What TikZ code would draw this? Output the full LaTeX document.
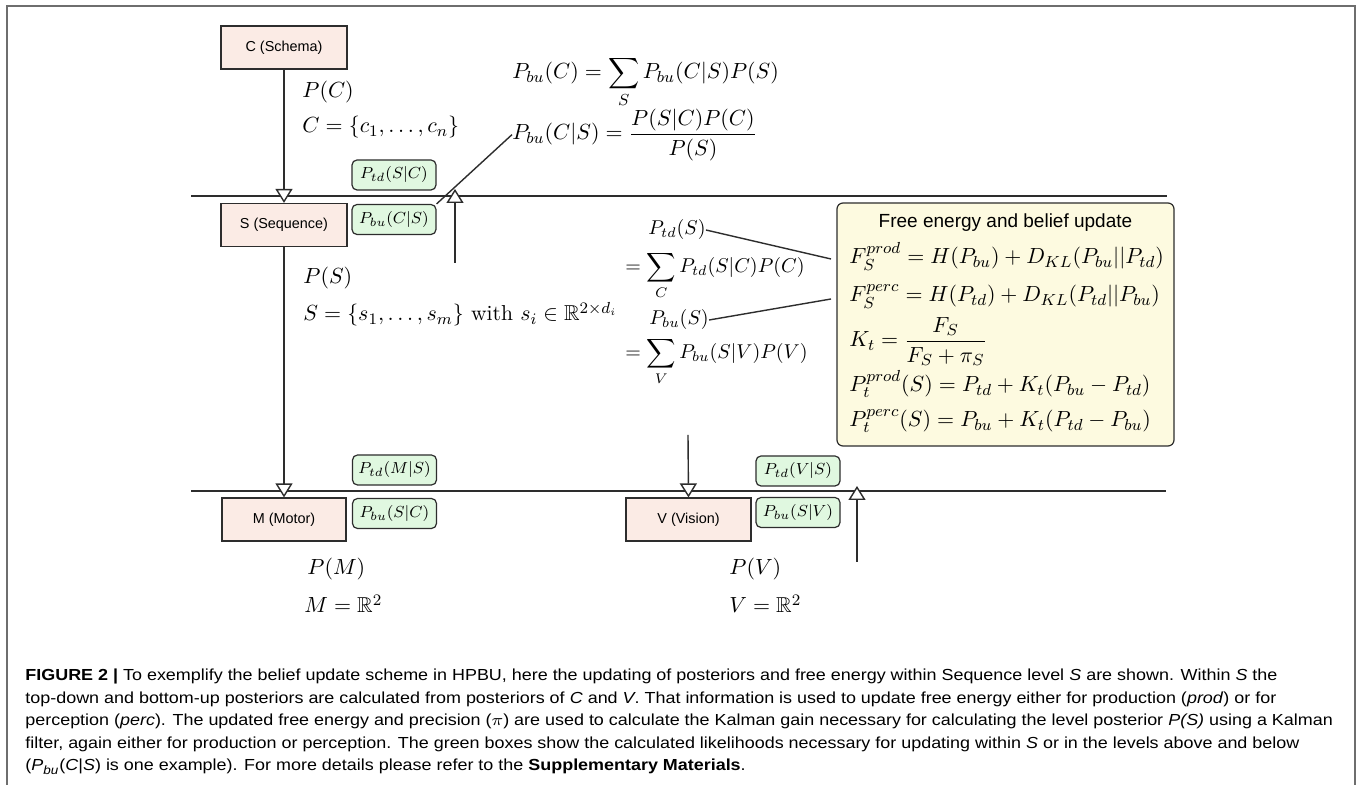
\documentclass[tikz,border=0pt]{standalone}
\usepackage{amsmath,amssymb}
\usepackage{fontspec}
\setsansfont{Liberation Sans}
\usetikzlibrary{arrows.meta}
\definecolor{pinkfill}{RGB}{251,235,229}
\definecolor{greenfill}{RGB}{224,248,224}
\definecolor{yellowfill}{RGB}{253,250,224}
\definecolor{linecol}{RGB}{45,45,45}
\definecolor{framecol}{RGB}{110,110,110}
\newlength\capw
\newcommand\capfont{\sffamily\fontsize{8}{9.6}\selectfont}
\newcommand\capA{\textbf{FIGURE 2 |} To exemplify the belief update scheme in HPBU, here the updating of posteriors and free energy within Sequence level \textit{S} are shown. Within \textit{S} the}
\newcommand\capB{top-down and bottom-up posteriors are calculated from posteriors of \textit{C} and \textit{V}. That information is used to update free energy either for production (\textit{prod}) or for}
\newcommand\capC{perception (\textit{perc}). The updated free energy and precision ($\pi$) are used to calculate the Kalman gain necessary for calculating the level posterior \textit{P(S)} using a Kalman}
\newcommand\capD{filter, again either for production or perception. The green boxes show the calculated likelihoods necessary for updating within \textit{S} or in the levels above and below}
\newcommand\capE{(\textit{P}\textsubscript{\textit{bu}}(\textit{C}|\textit{S}) is one example). For more details please refer to the \textbf{Supplementary Materials}.}
\tikzset{
  lvl/.style={draw=linecol, fill=pinkfill, line width=0.6pt, minimum width=63pt, minimum height=21.5pt, inner sep=0pt, font=\sffamily\fontsize{7.2}{8}\selectfont},
  lik/.style={draw=linecol, fill=greenfill, rounded corners=2.5pt, line width=0.6pt, minimum width=42pt, minimum height=15pt, inner sep=0pt, font=\fontsize{8.4}{10}\selectfont},
  febox/.style={draw=linecol, fill=yellowfill, rounded corners=3pt, line width=0.6pt, minimum width=168.5pt, minimum height=121.5pt, inner sep=0pt},
  fml/.style={inner sep=0pt, anchor=base west, font=\fontsize{10.8}{13}\selectfont},
  fmlfe/.style={fml, font=\fontsize{11}{13}\selectfont},
  fmlS/.style={fml, font=\fontsize{10.2}{12}\selectfont},
  conn/.style={draw=linecol, line width=0.7pt},
  tri/.style={conn, -{Triangle[open, fill=white, width=8.5pt, length=7pt]}},
  capline/.style={inner sep=0pt, anchor=base west, font=\capfont},
}
\begin{document}
\settowidth\capw{\capfont\capA}%
\pgfmathsetmacro\capsx{626/\capw}%
\begin{tikzpicture}[x=0.5pt,y=-0.5pt]
\useasboundingbox (0,0) rectangle (1357,785);
\fill[white] (0,0) rectangle (1357,785);
% frame
\draw[framecol, line width=0.8pt] (7,800) -- (7,6) -- (1355,6) -- (1355,800);
% level separators
\coordinate (h1a) at (191,196); \coordinate (h1b) at (1167,196);
\coordinate (h2a) at (191,491); \coordinate (h2b) at (1166,491);
\draw[conn] (h1a) -- (h1b);
\draw[conn] (h2a) -- (h2b);
% level boxes
\node[lvl] (C) at (284,47.5) {C (Schema)};
\node[lvl] (S) at (284,225) {S (Sequence)};
\node[lvl, minimum width=62pt] (M) at (284,519.5) {M (Motor)};
\node[lvl, minimum width=62.5pt] (V) at (688.5,519.5) {V (Vision)};
% likelihood boxes
\node[lik] (tdSC) at (394,175) {$P_{td}(S|C)$};
\node[lik] (buCS) at (394,219.5) {$P_{bu}(C|S)$};
\node[lik] (tdMS) at (394.5,470) {$P_{td}(M|S)$};
\node[lik] (buSC) at (394.5,513.5) {$P_{bu}(S|C)$};
\node[lik] (tdVS) at (798,471) {$P_{td}(V|S)$};
\node[lik] (buSV) at (798,512.5) {$P_{bu}(S|V)$};
% arrows
\coordinate (u1s) at (455,263); \coordinate (u1e) at (455,189);
\coordinate (d2s) at (688,435);
\coordinate (u2s) at (857,562); \coordinate (u2e) at (857,486);
\draw[tri] (C.south) -- (S.north);
\draw[tri] (S.south) -- (M.north);
\draw[tri] (u1s) -- (u1e);
\draw[tri] (d2s) -- (V.north);
\draw[tri] (u2s) -- (u2e);
% level labels
\node[fml] (lPC) at (302,98) {$P(C)$};
\node[fml] (lCset) at (302,133) {$C=\{c_1,\ldots,c_n\}$};
\node[fml] (lPS) at (303,284) {$P(S)$};
\node[fml] (lSset) at (303,321) {$S=\{s_1,\ldots,s_m\}\text{ with }s_i\in\mathbb{R}^{2\times d_i}$};
\node[fml] (lPM) at (307,575) {$P(M)$};
\node[fml] (lMset) at (304,613) {$M=\mathbb{R}^2$};
\node[fml] (lPV) at (729,575) {$P(V)$};
\node[fml] (lVset) at (729,613) {$V=\mathbb{R}^2$};
% bottom-up formulas for C
\node[fml] (fbuC) at (512,79) {$\displaystyle P_{bu}(C)=\sum_{S}P_{bu}(C|S)P(S)$};
\node[fml] (fbuCS) at (512,140) {$\displaystyle P_{bu}(C|S)=\frac{P(S|C)P(C)}{P(S)}$};
\draw[conn] (buCS.north east) -- (fbuCS.west);
% posteriors of S
\node[fmlS] (ftdS) at (648,235) {$P_{td}(S)$};
\node[fmlS] (ftdSsum) at (625,273) {$\displaystyle =\sum_{C}P_{td}(S|C)P(C)$};
\node[fmlS] (fbuS) at (649,325) {$P_{bu}(S)$};
\node[fmlS] (fbuSsum) at (625,359) {$\displaystyle =\sum_{V}P_{bu}(S|V)P(V)$};
% free energy box
\node[febox] (fe) at (1005.5,324.5) {};
\node[inner sep=0pt, anchor=base, font=\sffamily\fontsize{9.5}{11}\selectfont] (fetitle) at (1005.5,228) {Free energy and belief update};
\node[fmlfe] (fFprod) at (849,264) {$F_S^{prod}=H(P_{bu})+D_{KL}(P_{bu}||P_{td})$};
\node[fmlfe] (fFperc) at (849,302) {$F_S^{perc}=H(P_{td})+D_{KL}(P_{td}||P_{bu})$};
\node[fmlfe] (fK) at (849,347) {$\displaystyle K_t=\frac{F_S}{F_S+\pi_S}$};
\node[fmlfe] (fPprod) at (849,392) {$P_t^{prod}(S)=P_{td}+K_t(P_{bu}-P_{td})$};
\node[fmlfe] (fPperc) at (849,427) {$P_t^{perc}(S)=P_{bu}+K_t(P_{td}-P_{bu})$};
\coordinate (e1) at (831,259);
\coordinate (e2) at (831,299);
\draw[conn] (ftdS.east) -- (e1);
\draw[conn] (fbuS.east) -- (e2);
% caption
\node[capline] (cap1) at (25,681) {\scalebox{\capsx}[1]{\capA}};
\node[capline] (cap2) at (25,703.5) {\scalebox{\capsx}[1]{\capB}};
\node[capline] (cap3) at (25,726) {\scalebox{\capsx}[1]{\capC}};
\node[capline] (cap4) at (25,748.5) {\scalebox{\capsx}[1]{\capD}};
\node[capline] (cap5) at (25,771) {\scalebox{\capsx}[1]{\capE}};
\end{tikzpicture}
\end{document}
